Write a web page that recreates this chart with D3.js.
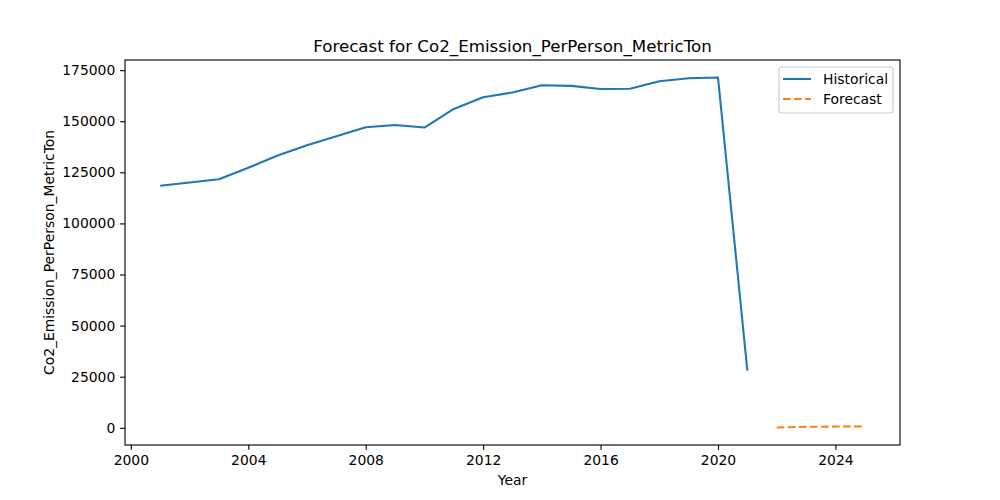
<!DOCTYPE html>
<html><head><meta charset="utf-8">
<script src="https://cdn.jsdelivr.net/npm/d3@7"></script>
<style>body{margin:0;background:#fff}svg{display:block;font-family:"DejaVu Sans",sans-serif}</style>
</head><body><svg id="c" width="1000" height="500"></svg>
<script>
const histYears = [2001,2002,2003,2004,2005,2006,2007,2008,2009,2010,2011,2012,2013,2014,2015,2016,2017,2018,2019,2020,2021];
const histValues = [118400,120000,121600,127200,133200,138300,142700,147100,148200,146900,156000,161700,164100,167600,167300,165800,165900,169600,171000,171400,28000];
const fcYears = [2022,2023,2024,2025];
const fcValues = [150,500,600,650];
const xTicks = [2000,2004,2008,2012,2016,2020,2024];
const yTicks = [0,25000,50000,75000,100000,125000,150000,175000];

const PT=100/72;
const L=125,R=900,T=60,B=445;
const svg=d3.select("#c");
const allX=histYears.concat(fcYears), allY=histValues.concat(fcValues);
const xmin=d3.min(allX),xmax=d3.max(allX),ymin=d3.min(allY),ymax=d3.max(allY);
const xm=(xmax-xmin)*0.05, ym=(ymax-ymin)*0.05;
const x=d3.scaleLinear().domain([xmin-xm,xmax+xm]).range([L,R]);
const y=d3.scaleLinear().domain([ymin-ym,ymax+ym]).range([B,T]);
const dash=`${3.7*1.5*PT},${1.6*1.5*PT}`;

const line=d3.line().x(d=>x(d[0])).y(d=>y(d[1]));
svg.append("path").datum(histYears.map((d,i)=>[d,histValues[i]]))
  .attr("d",line).attr("fill","none").attr("stroke","#1f77b4").attr("stroke-width",1.5*PT).attr("stroke-linejoin","round").attr("stroke-linecap","butt");
svg.append("path").datum(fcYears.map((d,i)=>[d,fcValues[i]]))
  .attr("d",line).attr("fill","none").attr("stroke","#ff7f0e").attr("stroke-width",1.5*PT).attr("stroke-dasharray",dash);

const xa=svg.append("g").attr("transform",`translate(0,${B})`).call(d3.axisBottom(x).tickValues(xTicks).tickFormat(d3.format("d")).tickSize(3.5*PT).tickPadding(3.5*PT));
const ya=svg.append("g").attr("transform",`translate(${L},0)`).call(d3.axisLeft(y).tickValues(yTicks).tickFormat(d3.format("d")).tickSize(3.5*PT).tickPadding(3.5*PT));
[xa,ya].forEach(a=>{a.select(".domain").remove();a.selectAll("text").attr("font-size","13.9px").attr("font-family","DejaVu Sans").attr("fill","#000");a.selectAll("line").attr("stroke","#000").attr("stroke-width",0.8*PT);});
svg.append("rect").attr("x",L).attr("y",T).attr("width",R-L).attr("height",B-T).attr("fill","none").attr("stroke","#000").attr("stroke-width",0.8*PT);

svg.append("text").attr("x",(L+R)/2).attr("y",T-8).attr("text-anchor","middle").attr("font-size","16.7px").text("Forecast for Co2_Emission_PerPerson_MetricTon");
svg.append("text").attr("x",(L+R)/2).attr("y",485).attr("text-anchor","middle").attr("font-size","13.9px").text("Year");
svg.append("text").attr("transform",`translate(54,${(T+B)/2}) rotate(-90)`).attr("text-anchor","middle").attr("font-size","13.9px").text("Co2_Emission_PerPerson_MetricTon");

const lg=svg.append("g");
lg.append("rect").attr("x",779).attr("y",67).attr("width",114).attr("height",46).attr("rx",3).attr("fill","#fff").attr("fill-opacity",0.8).attr("stroke","#ccc").attr("stroke-width",0.8*PT);
const items=[["Historical","#1f77b4",null],["Forecast","#ff7f0e",dash]];
items.forEach((it,i)=>{
  const yy=79+i*20;
  lg.append("line").attr("x1",783).attr("x2",811).attr("y1",yy).attr("y2",yy).attr("stroke",it[1]).attr("stroke-width",1.5*PT).attr("stroke-dasharray",it[2]);
  lg.append("text").attr("x",823).attr("y",yy+5).attr("font-size","13.9px").text(it[0]);
});
</script></body></html>
